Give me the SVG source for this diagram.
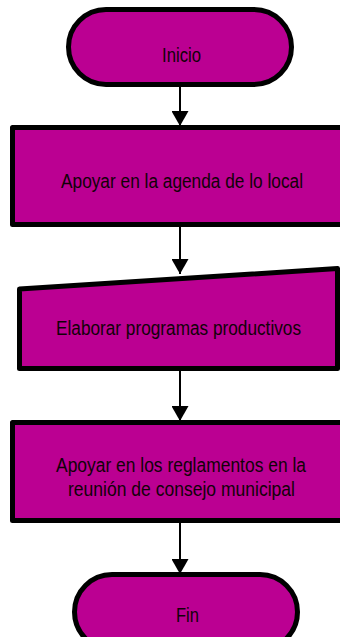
<svg xmlns="http://www.w3.org/2000/svg" width="340" height="637" viewBox="0 0 340 637">
<style>
.shape{fill:#bb0092;stroke:#000;stroke-width:5;stroke-linejoin:round}
.lbl{font-family:"Liberation Sans",Arial,sans-serif;font-size:19.5px;fill:#120008;text-anchor:middle}
.conn{stroke:#000;stroke-width:2;fill:none}
</style>
<defs>
<marker id="arr" markerUnits="userSpaceOnUse" markerWidth="16" markerHeight="17" refX="15" refY="8.5" orient="auto">
<path d="M0,0 L15,8.5 L0,17 Z" fill="#000"/>
</marker>
</defs>
<rect width="340" height="637" fill="#fff"/>
<g id="connectors">
<line class="conn" x1="180" y1="87" x2="180" y2="126" marker-end="url(#arr)"/>
<line class="conn" x1="180" y1="227" x2="180" y2="274" marker-end="url(#arr)"/>
<line class="conn" x1="180" y1="371" x2="180" y2="421" marker-end="url(#arr)"/>
<line class="conn" x1="180" y1="523" x2="180" y2="574" marker-end="url(#arr)"/>
</g>
<g id="inicio">
<rect class="shape" x="68.5" y="9.5" width="223" height="75" rx="37.5" ry="37.5"/>
<text class="lbl" x="181.5" y="62" textLength="39" lengthAdjust="spacingAndGlyphs">Inicio</text>
</g>
<g id="apoyar-agenda">
<rect class="shape" x="12.5" y="127.5" width="340" height="97" stroke-linejoin="miter"/>
<text class="lbl" x="182" y="188" textLength="242" lengthAdjust="spacingAndGlyphs">Apoyar en la agenda de lo local</text>
</g>
<g id="elaborar">
<path class="shape" d="M19.5,289 L337.5,268.5 L337.5,368.5 L19.5,368.5 Z"/>
<text class="lbl" x="178.5" y="335" textLength="245" lengthAdjust="spacingAndGlyphs">Elaborar programas productivos</text>
</g>
<g id="apoyar-reglamentos">
<rect class="shape" x="12.5" y="422.5" width="340" height="98" stroke-linejoin="miter"/>
<text class="lbl" x="181" y="472" textLength="250" lengthAdjust="spacingAndGlyphs">Apoyar en los reglamentos en la</text>
<text class="lbl" x="181.5" y="495.5" textLength="227" lengthAdjust="spacingAndGlyphs">reunión de consejo municipal</text>
</g>
<g id="fin">
<rect class="shape" x="74.5" y="574.5" width="223" height="75" rx="37.5" ry="37.5"/>
<text class="lbl" x="187.5" y="622" textLength="23" lengthAdjust="spacingAndGlyphs">Fin</text>
</g>
</svg>
